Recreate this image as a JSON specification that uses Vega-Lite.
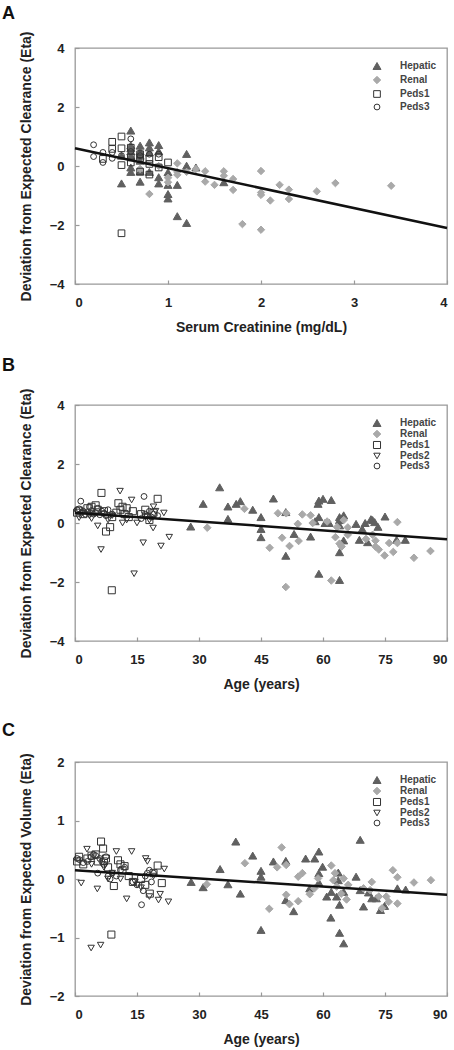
{
  "$schema": "https://vega.github.io/schema/vega-lite/v6.json",
  "padding": {"left": 1, "top": 4, "right": 4, "bottom": 2},
  "background": "white",
  "config": {
    "font": "Liberation Sans",
    "view": {"stroke": "#999999", "strokeWidth": 1.3},
    "axis": {"grid": false, "domain": false, "format": "d", "labelFont": "Liberation Sans", "labelFontWeight": "bold", "labelFontSize": 13, "labelColor": "#222222", "titleFont": "Liberation Sans", "titleFontWeight": "bold", "titleFontSize": 14, "titleColor": "#222222", "tickColor": "#999999", "tickSize": -4, "tickWidth": 1.2},
    "axisX": {"labelPadding": 16, "titlePadding": 11},
    "axisY": {"labelPadding": 15, "titlePadding": 16},
    "legend": {"orient": "none", "legendX": 297, "legendY": 13, "labelFont": "Liberation Sans", "labelFontSize": 10, "labelFontWeight": "bold", "labelColor": "#444444", "labelOffset": 18, "symbolStrokeWidth": 1},
    "title": {"font": "Liberation Sans", "fontSize": 18, "fontWeight": "bold", "color": "#111111", "anchor": "start", "frame": "group", "baseline": "bottom", "dx": -73}
  },
  "datasets": {
    "A": [
      {"g":"Hepatic","x":0.5,"y":-0.59},{"g":"Hepatic","x":0.5,"y":0.35},{"g":"Hepatic","x":0.6,"y":1.2},{"g":"Hepatic","x":0.6,"y":0.7},{"g":"Hepatic","x":0.6,"y":0.6},{"g":"Hepatic","x":0.6,"y":0.5},{"g":"Hepatic","x":0.6,"y":0.35},{"g":"Hepatic","x":0.6,"y":-0.05},{"g":"Hepatic","x":0.6,"y":-0.2},{"g":"Hepatic","x":0.7,"y":0.69},{"g":"Hepatic","x":0.7,"y":0.5},{"g":"Hepatic","x":0.7,"y":0.35},{"g":"Hepatic","x":0.7,"y":0.18},{"g":"Hepatic","x":0.7,"y":-0.19},{"g":"Hepatic","x":0.7,"y":-0.53},{"g":"Hepatic","x":0.8,"y":0.8},{"g":"Hepatic","x":0.8,"y":0.63},{"g":"Hepatic","x":0.8,"y":0.46},{"g":"Hepatic","x":0.8,"y":-0.2},{"g":"Hepatic","x":0.9,"y":0.71},{"g":"Hepatic","x":0.9,"y":0.5},{"g":"Hepatic","x":0.9,"y":-0.38},{"g":"Hepatic","x":0.9,"y":-0.59},{"g":"Hepatic","x":1.0,"y":-0.21},{"g":"Hepatic","x":1.0,"y":-0.64},{"g":"Hepatic","x":1.0,"y":-0.95},{"g":"Hepatic","x":1.0,"y":-1.1},{"g":"Hepatic","x":1.1,"y":-0.64},{"g":"Hepatic","x":1.1,"y":-1.7},{"g":"Hepatic","x":1.2,"y":0.41},{"g":"Hepatic","x":1.2,"y":0.01},{"g":"Hepatic","x":1.2,"y":-1.93},{"g":"Hepatic","x":1.3,"y":-0.05},{"g":"Hepatic","x":1.6,"y":-0.55},
      {"g":"Renal","x":0.7,"y":-0.1},{"g":"Renal","x":0.8,"y":-0.95},{"g":"Renal","x":0.9,"y":0.0},{"g":"Renal","x":1.0,"y":-0.4},{"g":"Renal","x":1.0,"y":-0.55},{"g":"Renal","x":1.1,"y":0.09},{"g":"Renal","x":1.1,"y":-0.2},{"g":"Renal","x":1.1,"y":-0.3},{"g":"Renal","x":1.2,"y":-0.2},{"g":"Renal","x":1.3,"y":-0.1},{"g":"Renal","x":1.4,"y":-0.18},{"g":"Renal","x":1.4,"y":-0.53},{"g":"Renal","x":1.5,"y":-0.64},{"g":"Renal","x":1.6,"y":-0.18},{"g":"Renal","x":1.6,"y":-0.33},{"g":"Renal","x":1.7,"y":-0.44},{"g":"Renal","x":1.7,"y":-0.81},{"g":"Renal","x":1.8,"y":-1.97},{"g":"Renal","x":2.0,"y":-0.17},{"g":"Renal","x":2.0,"y":-0.9},{"g":"Renal","x":2.0,"y":-0.98},{"g":"Renal","x":2.0,"y":-2.16},{"g":"Renal","x":2.1,"y":-1.17},{"g":"Renal","x":2.2,"y":-0.64},{"g":"Renal","x":2.3,"y":-0.8},{"g":"Renal","x":2.3,"y":-1.12},{"g":"Renal","x":2.6,"y":-0.86},{"g":"Renal","x":2.8,"y":-0.58},{"g":"Renal","x":3.4,"y":-0.67},
      {"g":"Peds1","x":0.5,"y":1.0},{"g":"Peds1","x":0.5,"y":-2.28},{"g":"Peds1","x":0.4,"y":0.82},{"g":"Peds1","x":0.4,"y":0.58},{"g":"Peds1","x":0.5,"y":0.6},{"g":"Peds1","x":0.5,"y":0.03},{"g":"Peds1","x":0.3,"y":0.24},{"g":"Peds1","x":0.8,"y":-0.29},{"g":"Peds1","x":0.7,"y":-0.19},{"g":"Peds1","x":1.0,"y":0.12},{"g":"Peds1","x":0.9,"y":-0.05},{"g":"Peds1","x":0.6,"y":0.12},{"g":"Peds1","x":0.6,"y":0.29},{"g":"Peds1","x":0.7,"y":0.4},{"g":"Peds1","x":0.7,"y":0.26},{"g":"Peds1","x":0.8,"y":0.24},{"g":"Peds1","x":0.8,"y":0.07},{"g":"Peds1","x":0.9,"y":0.3},{"g":"Peds1","x":0.6,"y":0.62},
      {"g":"Peds3","x":0.2,"y":0.72},{"g":"Peds3","x":0.2,"y":0.32},{"g":"Peds3","x":0.3,"y":0.46},{"g":"Peds3","x":0.3,"y":0.12},{"g":"Peds3","x":0.4,"y":0.26},{"g":"Peds3","x":0.4,"y":0.46},{"g":"Peds3","x":0.5,"y":0.35},{"g":"Peds3","x":0.6,"y":0.92},{"g":"Peds3","x":0.6,"y":0.49},{"g":"Peds3","x":0.7,"y":0.35},{"g":"Peds3","x":0.8,"y":0.4},{"g":"Peds3","x":0.9,"y":0.4}
    ],
    "B": [
      {"g":"Hepatic","x":28,"y":-0.12},{"g":"Hepatic","x":31,"y":0.65},{"g":"Hepatic","x":35,"y":1.21},{"g":"Hepatic","x":37,"y":0.56},{"g":"Hepatic","x":37,"y":0.14},{"g":"Hepatic","x":39,"y":0.65},{"g":"Hepatic","x":40,"y":0.74},{"g":"Hepatic","x":43,"y":0.45},{"g":"Hepatic","x":45,"y":0.2},{"g":"Hepatic","x":45,"y":-0.2},{"g":"Hepatic","x":45,"y":-0.48},{"g":"Hepatic","x":48,"y":0.83},{"g":"Hepatic","x":51,"y":0.37},{"g":"Hepatic","x":51,"y":-1.11},{"g":"Hepatic","x":53,"y":-0.37},{"g":"Hepatic","x":57,"y":-0.46},{"g":"Hepatic","x":58.1,"y":0.06},{"g":"Hepatic","x":58.8,"y":0.65},{"g":"Hepatic","x":59,"y":0.76},{"g":"Hepatic","x":60,"y":0.82},{"g":"Hepatic","x":62,"y":0.78},{"g":"Hepatic","x":59,"y":0.2},{"g":"Hepatic","x":59,"y":-1.72},{"g":"Hepatic","x":60.5,"y":0.0},{"g":"Hepatic","x":61.5,"y":0.0},{"g":"Hepatic","x":64,"y":0.2},{"g":"Hepatic","x":64,"y":0.1},{"g":"Hepatic","x":64,"y":-0.08},{"g":"Hepatic","x":64,"y":-0.99},{"g":"Hepatic","x":64,"y":-1.93},{"g":"Hepatic","x":65,"y":0.26},{"g":"Hepatic","x":65,"y":-0.59},{"g":"Hepatic","x":68,"y":-0.03},{"g":"Hepatic","x":68.8,"y":-0.57},{"g":"Hepatic","x":69.5,"y":-0.2},{"g":"Hepatic","x":70.2,"y":0.0},{"g":"Hepatic","x":70.8,"y":-0.65},{"g":"Hepatic","x":71.6,"y":0.13},{"g":"Hepatic","x":72,"y":0.1},{"g":"Hepatic","x":72.5,"y":0.03},{"g":"Hepatic","x":73.3,"y":-0.13},{"g":"Hepatic","x":75,"y":0.22},{"g":"Hepatic","x":77.8,"y":-0.57},{"g":"Hepatic","x":79.9,"y":-0.57},
      {"g":"Renal","x":32,"y":-0.16},{"g":"Renal","x":41,"y":0.48},{"g":"Renal","x":47.1,"y":-0.84},{"g":"Renal","x":49.1,"y":0.33},{"g":"Renal","x":51.1,"y":0.33},{"g":"Renal","x":51,"y":-2.17},{"g":"Renal","x":50.1,"y":-0.5},{"g":"Renal","x":51.9,"y":-0.78},{"g":"Renal","x":54.1,"y":-0.61},{"g":"Renal","x":53.9,"y":-0.03},{"g":"Renal","x":55,"y":0.29},{"g":"Renal","x":57,"y":0.26},{"g":"Renal","x":57.5,"y":0.0},{"g":"Renal","x":61,"y":0.05},{"g":"Renal","x":62,"y":-1.95},{"g":"Renal","x":63,"y":-0.48},{"g":"Renal","x":63.4,"y":-0.14},{"g":"Renal","x":64,"y":-0.7},{"g":"Renal","x":64.5,"y":-0.8},{"g":"Renal","x":65,"y":0.1},{"g":"Renal","x":66,"y":-0.15},{"g":"Renal","x":66,"y":-0.4},{"g":"Renal","x":70.4,"y":-0.54},{"g":"Renal","x":72,"y":-0.4},{"g":"Renal","x":72.7,"y":-0.6},{"g":"Renal","x":72.7,"y":-0.8},{"g":"Renal","x":73.5,"y":-0.9},{"g":"Renal","x":74.9,"y":-1.1},{"g":"Renal","x":76,"y":-0.68},{"g":"Renal","x":77,"y":-0.98},{"g":"Renal","x":78,"y":-0.68},{"g":"Renal","x":78,"y":0.03},{"g":"Renal","x":82,"y":-1.18},{"g":"Renal","x":86,"y":-0.95},
      {"g":"Peds1","x":0.5,"y":0.35},{"g":"Peds1","x":1,"y":0.42},{"g":"Peds1","x":2,"y":0.3},{"g":"Peds1","x":3,"y":0.5},{"g":"Peds1","x":4,"y":0.55},{"g":"Peds1","x":5,"y":0.6},{"g":"Peds1","x":5.5,"y":0.45},{"g":"Peds1","x":6.4,"y":1.02},{"g":"Peds1","x":7,"y":0.4},{"g":"Peds1","x":7.5,"y":-0.29},{"g":"Peds1","x":8.5,"y":-0.14},{"g":"Peds1","x":8.9,"y":-2.28},{"g":"Peds1","x":9,"y":0.2},{"g":"Peds1","x":10,"y":0.35},{"g":"Peds1","x":10.5,"y":0.67},{"g":"Peds1","x":11,"y":0.45},{"g":"Peds1","x":11.5,"y":0.55},{"g":"Peds1","x":12,"y":0.3},{"g":"Peds1","x":12.5,"y":0.5},{"g":"Peds1","x":13,"y":0.2},{"g":"Peds1","x":14,"y":0.4},{"g":"Peds1","x":16,"y":0.3},{"g":"Peds1","x":17,"y":0.45},{"g":"Peds1","x":18,"y":0.1},{"g":"Peds1","x":19,"y":0.35},{"g":"Peds1","x":20,"y":0.82},
      {"g":"Peds2","x":1,"y":0.18},{"g":"Peds2","x":2,"y":0.35},{"g":"Peds2","x":3.5,"y":0.25},{"g":"Peds2","x":4,"y":0.15},{"g":"Peds2","x":5.5,"y":-0.1},{"g":"Peds2","x":6.3,"y":-0.9},{"g":"Peds2","x":7,"y":0.3},{"g":"Peds2","x":8,"y":0.1},{"g":"Peds2","x":9,"y":0.25},{"g":"Peds2","x":10.9,"y":1.08},{"g":"Peds2","x":11.5,"y":0.0},{"g":"Peds2","x":12.5,"y":0.1},{"g":"Peds2","x":13.7,"y":0.78},{"g":"Peds2","x":14.3,"y":-1.72},{"g":"Peds2","x":15,"y":0.0},{"g":"Peds2","x":16.5,"y":-0.67},{"g":"Peds2","x":17,"y":0.2},{"g":"Peds2","x":18,"y":0.1},{"g":"Peds2","x":18.9,"y":-0.17},{"g":"Peds2","x":19,"y":0.55},{"g":"Peds2","x":19.5,"y":0.4},{"g":"Peds2","x":20.8,"y":-0.78},{"g":"Peds2","x":21.5,"y":0.34},{"g":"Peds2","x":22.8,"y":-0.48},
      {"g":"Peds3","x":0.5,"y":0.45},{"g":"Peds3","x":1,"y":0.48},{"g":"Peds3","x":1.4,"y":0.74},{"g":"Peds3","x":2,"y":0.4},{"g":"Peds3","x":2.5,"y":0.3},{"g":"Peds3","x":3,"y":0.38},{"g":"Peds3","x":3.5,"y":0.55},{"g":"Peds3","x":4,"y":0.42},{"g":"Peds3","x":4.5,"y":0.3},{"g":"Peds3","x":5,"y":0.35},{"g":"Peds3","x":5.5,"y":0.5},{"g":"Peds3","x":6,"y":0.28},{"g":"Peds3","x":6.5,"y":0.4},{"g":"Peds3","x":7,"y":0.33},{"g":"Peds3","x":7.5,"y":0.25},{"g":"Peds3","x":8,"y":0.45},{"g":"Peds3","x":9,"y":0.3},{"g":"Peds3","x":16,"y":0.15},{"g":"Peds3","x":16.7,"y":0.9},{"g":"Peds3","x":17,"y":0.3},{"g":"Peds3","x":17.5,"y":0.25},{"g":"Peds3","x":18,"y":0.4},{"g":"Peds3","x":18.5,"y":0.2},{"g":"Peds3","x":19,"y":0.3},{"g":"Peds3","x":20,"y":0.25}
    ],
    "C": [
      {"g":"Hepatic","x":28.1,"y":-0.05},{"g":"Hepatic","x":31,"y":-0.14},{"g":"Hepatic","x":35.1,"y":0.17},{"g":"Hepatic","x":37,"y":-0.09},{"g":"Hepatic","x":38.9,"y":0.64},{"g":"Hepatic","x":40,"y":-0.25},{"g":"Hepatic","x":43,"y":0.4},{"g":"Hepatic","x":45,"y":0.14},{"g":"Hepatic","x":45,"y":0.04},{"g":"Hepatic","x":45,"y":-0.87},{"g":"Hepatic","x":48,"y":0.3},{"g":"Hepatic","x":51,"y":0.31},{"g":"Hepatic","x":51,"y":-0.36},{"g":"Hepatic","x":52.9,"y":-0.55},{"g":"Hepatic","x":55.8,"y":0.35},{"g":"Hepatic","x":56.8,"y":-0.16},{"g":"Hepatic","x":58,"y":0.35},{"g":"Hepatic","x":59,"y":0.47},{"g":"Hepatic","x":59,"y":0.1},{"g":"Hepatic","x":59,"y":-0.06},{"g":"Hepatic","x":59.9,"y":0.21},{"g":"Hepatic","x":60.9,"y":-0.3},{"g":"Hepatic","x":61.9,"y":-0.66},{"g":"Hepatic","x":62,"y":-0.22},{"g":"Hepatic","x":63.3,"y":-0.3},{"g":"Hepatic","x":63.7,"y":0.11},{"g":"Hepatic","x":63.7,"y":-0.02},{"g":"Hepatic","x":64,"y":-0.44},{"g":"Hepatic","x":64,"y":-0.92},{"g":"Hepatic","x":65,"y":-1.1},{"g":"Hepatic","x":65,"y":-0.22},{"g":"Hepatic","x":68,"y":0.04},{"g":"Hepatic","x":69,"y":0.67},{"g":"Hepatic","x":69,"y":-0.19},{"g":"Hepatic","x":69.8,"y":-0.47},{"g":"Hepatic","x":71,"y":-0.23},{"g":"Hepatic","x":71.8,"y":-0.33},{"g":"Hepatic","x":72.9,"y":-0.33},{"g":"Hepatic","x":73.9,"y":-0.53},{"g":"Hepatic","x":74.9,"y":-0.46},{"g":"Hepatic","x":78,"y":-0.16},{"g":"Hepatic","x":80,"y":-0.18},
      {"g":"Renal","x":31.9,"y":-0.09},{"g":"Renal","x":41.1,"y":0.27},{"g":"Renal","x":47,"y":-0.51},{"g":"Renal","x":48.9,"y":0.2},{"g":"Renal","x":50,"y":0.54},{"g":"Renal","x":51.1,"y":0.24},{"g":"Renal","x":51.1,"y":-0.27},{"g":"Renal","x":51.9,"y":-0.43},{"g":"Renal","x":54,"y":0.04},{"g":"Renal","x":54,"y":-0.38},{"g":"Renal","x":55,"y":0.1},{"g":"Renal","x":56.8,"y":-0.26},{"g":"Renal","x":57.9,"y":-0.16},{"g":"Renal","x":58.8,"y":0.01},{"g":"Renal","x":62,"y":0.23},{"g":"Renal","x":62.9,"y":0.1},{"g":"Renal","x":62.5,"y":-0.02},{"g":"Renal","x":63.3,"y":-0.13},{"g":"Renal","x":64.4,"y":-0.25},{"g":"Renal","x":65,"y":0.01},{"g":"Renal","x":65.7,"y":-0.35},{"g":"Renal","x":66.1,"y":-0.1},{"g":"Renal","x":69.8,"y":-0.16},{"g":"Renal","x":71.4,"y":-0.19},{"g":"Renal","x":71.8,"y":-0.05},{"g":"Renal","x":73.5,"y":-0.3},{"g":"Renal","x":74.3,"y":-0.5},{"g":"Renal","x":75.3,"y":-0.3},{"g":"Renal","x":75.9,"y":-0.39},{"g":"Renal","x":76.9,"y":0.15},{"g":"Renal","x":78,"y":0.03},{"g":"Renal","x":78,"y":-0.42},{"g":"Renal","x":82,"y":-0.06},{"g":"Renal","x":86.1,"y":-0.02},
      {"g":"Peds1","x":0.5,"y":0.3},{"g":"Peds1","x":1,"y":0.38},{"g":"Peds1","x":2,"y":0.25},{"g":"Peds1","x":3,"y":0.35},{"g":"Peds1","x":4,"y":0.4},{"g":"Peds1","x":5,"y":0.42},{"g":"Peds1","x":5.5,"y":0.3},{"g":"Peds1","x":6.3,"y":0.64},{"g":"Peds1","x":6.8,"y":0.52},{"g":"Peds1","x":7,"y":0.3},{"g":"Peds1","x":7.5,"y":0.35},{"g":"Peds1","x":8,"y":0.2},{"g":"Peds1","x":8.8,"y":-0.95},{"g":"Peds1","x":9.4,"y":-0.12},{"g":"Peds1","x":10.4,"y":0.32},{"g":"Peds1","x":11,"y":0.25},{"g":"Peds1","x":11.5,"y":0.15},{"g":"Peds1","x":12,"y":0.22},{"g":"Peds1","x":13,"y":0.05},{"g":"Peds1","x":14,"y":-0.05},{"g":"Peds1","x":16,"y":0.0},{"g":"Peds1","x":17,"y":-0.1},{"g":"Peds1","x":18.1,"y":-0.25},{"g":"Peds1","x":19,"y":0.1},{"g":"Peds1","x":20,"y":0.23},{"g":"Peds1","x":21,"y":-0.07},
      {"g":"Peds2","x":1.5,"y":-0.07},{"g":"Peds2","x":2.9,"y":0.51},{"g":"Peds2","x":3.9,"y":-1.18},{"g":"Peds2","x":4,"y":0.25},{"g":"Peds2","x":5.4,"y":-0.17},{"g":"Peds2","x":6.2,"y":-1.13},{"g":"Peds2","x":7,"y":0.2},{"g":"Peds2","x":8,"y":0.0},{"g":"Peds2","x":9,"y":0.1},{"g":"Peds2","x":10,"y":0.47},{"g":"Peds2","x":11,"y":0.0},{"g":"Peds2","x":12.5,"y":-0.34},{"g":"Peds2","x":13.7,"y":0.47},{"g":"Peds2","x":14.5,"y":-0.05},{"g":"Peds2","x":15.1,"y":-0.1},{"g":"Peds2","x":16,"y":-0.15},{"g":"Peds2","x":17.1,"y":0.35},{"g":"Peds2","x":17.5,"y":0.3},{"g":"Peds2","x":18,"y":-0.3},{"g":"Peds2","x":19,"y":0.05},{"g":"Peds2","x":20.2,"y":-0.36},{"g":"Peds2","x":20.6,"y":-0.26},{"g":"Peds2","x":21.6,"y":0.17},{"g":"Peds2","x":22.6,"y":-0.39},
      {"g":"Peds3","x":0.5,"y":0.35},{"g":"Peds3","x":1.1,"y":0.33},{"g":"Peds3","x":2,"y":0.28},{"g":"Peds3","x":3,"y":0.3},{"g":"Peds3","x":3.9,"y":0.38},{"g":"Peds3","x":4.5,"y":0.42},{"g":"Peds3","x":5,"y":0.4},{"g":"Peds3","x":5.5,"y":0.1},{"g":"Peds3","x":6,"y":0.35},{"g":"Peds3","x":6.5,"y":0.3},{"g":"Peds3","x":7,"y":0.25},{"g":"Peds3","x":7.5,"y":0.38},{"g":"Peds3","x":8,"y":0.05},{"g":"Peds3","x":8.5,"y":0.0},{"g":"Peds3","x":9,"y":0.1},{"g":"Peds3","x":10,"y":0.05},{"g":"Peds3","x":11,"y":0.15},{"g":"Peds3","x":12,"y":0.2},{"g":"Peds3","x":14,"y":-0.05},{"g":"Peds3","x":15,"y":-0.1},{"g":"Peds3","x":16.1,"y":-0.44},{"g":"Peds3","x":16.5,"y":-0.2},{"g":"Peds3","x":17,"y":0.05},{"g":"Peds3","x":17.5,"y":0.1},{"g":"Peds3","x":18,"y":0.15},{"g":"Peds3","x":18.5,"y":-0.05},{"g":"Peds3","x":19,"y":0.1}
    ],
    "fitA": [{"x":0,"y":0.6},{"x":4,"y":-2.1}],
    "fitB": [{"x":0,"y":0.35},{"x":90,"y":-0.55}],
    "fitC": [{"x":0,"y":0.15},{"x":90,"y":-0.27}]
  },
  "vconcat": [
    {
      "title": {"text": "A", "offset": 8},
      "width": 372, "height": 236,
      "layer": [
        {"mark": {"type": "rule", "color": "#9a9a9a", "strokeWidth": 1.3}, "encoding": {"y": {"datum": 0, "type": "quantitative", "scale": {"domain": [-4, 4], "nice": false}}}},
        {
          "data": {"name": "A"},
          "mark": {"type": "point", "filled": true, "strokeWidth": 1, "opacity": 1},
          "encoding": {
            "x": {"field": "x", "type": "quantitative", "scale": {"domain": [0, 4], "nice": false}, "axis": {"values": [0, 1, 2, 3, 4], "title": "Serum Creatinine (mg/dL)"}},
            "y": {"field": "y", "type": "quantitative", "scale": {"domain": [-4, 4], "nice": false}, "axis": {"values": [-4, -2, 0, 2, 4], "title": "Deviation from Expected Clearance (Eta)"}},
            "shape": {"field": "g", "type": "nominal", "scale": {"domain": ["Hepatic", "Renal", "Peds1", "Peds3"], "range": ["triangle-up", "diamond", "square", "circle"]}, "legend": {"title": null, "rowPadding": 2}},
            "fill": {"field": "g", "type": "nominal", "scale": {"domain": ["Hepatic", "Renal", "Peds1", "Peds3"], "range": ["#606060", "#a9a9a9", "transparent", "transparent"]}, "legend": {"title": null, "rowPadding": 2}},
            "stroke": {"field": "g", "type": "nominal", "scale": {"domain": ["Hepatic", "Renal", "Peds1", "Peds3"], "range": ["#606060", "#a9a9a9", "#333333", "#333333"]}, "legend": {"title": null, "rowPadding": 2}},
            "size": {"field": "g", "type": "nominal", "scale": {"domain": ["Hepatic", "Renal", "Peds1", "Peds3"], "range": [65, 34, 75, 60]}, "legend": {"title": null, "rowPadding": 2}}
          }
        },
        {"data": {"name": "fitA"}, "mark": {"type": "line", "color": "#111111", "strokeWidth": 2.5}, "encoding": {"x": {"field": "x", "type": "quantitative"}, "y": {"field": "y", "type": "quantitative"}}}
      ]
    },
    {
      "title": {"text": "B", "offset": 13},
      "width": 372, "height": 236,
      "layer": [
        {"mark": {"type": "rule", "color": "#9a9a9a", "strokeWidth": 1.3}, "encoding": {"y": {"datum": 0, "type": "quantitative", "scale": {"domain": [-4, 4], "nice": false}}}},
        {
          "data": {"name": "B"},
          "mark": {"type": "point", "filled": true, "strokeWidth": 1, "opacity": 1},
          "encoding": {
            "x": {"field": "x", "type": "quantitative", "scale": {"domain": [0, 90], "nice": false}, "axis": {"values": [0, 15, 30, 45, 60, 75, 90], "title": "Age (years)"}},
            "y": {"field": "y", "type": "quantitative", "scale": {"domain": [-4, 4], "nice": false}, "axis": {"values": [-4, -2, 0, 2, 4], "title": "Deviation from Expected Clearance (Eta)"}},
            "shape": {"field": "g", "type": "nominal", "scale": {"domain": ["Hepatic", "Renal", "Peds1", "Peds2", "Peds3"], "range": ["triangle-up", "diamond", "square", "triangle-down", "circle"]}, "legend": {"title": null, "rowPadding": -1.5}},
            "fill": {"field": "g", "type": "nominal", "scale": {"domain": ["Hepatic", "Renal", "Peds1", "Peds2", "Peds3"], "range": ["#606060", "#a9a9a9", "transparent", "transparent", "transparent"]}, "legend": {"title": null, "rowPadding": -1.5}},
            "stroke": {"field": "g", "type": "nominal", "scale": {"domain": ["Hepatic", "Renal", "Peds1", "Peds2", "Peds3"], "range": ["#606060", "#a9a9a9", "#333333", "#333333", "#333333"]}, "legend": {"title": null, "rowPadding": -1.5}},
            "size": {"field": "g", "type": "nominal", "scale": {"domain": ["Hepatic", "Renal", "Peds1", "Peds2", "Peds3"], "range": [65, 34, 75, 60, 60]}, "legend": {"title": null, "rowPadding": -1.5}}
          }
        },
        {"data": {"name": "fitB"}, "mark": {"type": "line", "color": "#111111", "strokeWidth": 2.5}, "encoding": {"x": {"field": "x", "type": "quantitative"}, "y": {"field": "y", "type": "quantitative"}}}
      ]
    },
    {
      "title": {"text": "C", "offset": 13},
      "width": 372, "height": 234,
      "layer": [
        {"mark": {"type": "rule", "color": "#9a9a9a", "strokeWidth": 1.3}, "encoding": {"y": {"datum": 0, "type": "quantitative", "scale": {"domain": [-2, 2], "nice": false}}}},
        {
          "data": {"name": "C"},
          "mark": {"type": "point", "filled": true, "strokeWidth": 1, "opacity": 1},
          "encoding": {
            "x": {"field": "x", "type": "quantitative", "scale": {"domain": [0, 90], "nice": false}, "axis": {"values": [0, 15, 30, 45, 60, 75, 90], "title": "Age (years)"}},
            "y": {"field": "y", "type": "quantitative", "scale": {"domain": [-2, 2], "nice": false}, "axis": {"values": [-2, -1, 0, 1, 2], "title": "Deviation from Expected Volume (Eta)"}},
            "shape": {"field": "g", "type": "nominal", "scale": {"domain": ["Hepatic", "Renal", "Peds1", "Peds2", "Peds3"], "range": ["triangle-up", "diamond", "square", "triangle-down", "circle"]}, "legend": {"title": null, "rowPadding": -1.5}},
            "fill": {"field": "g", "type": "nominal", "scale": {"domain": ["Hepatic", "Renal", "Peds1", "Peds2", "Peds3"], "range": ["#606060", "#a9a9a9", "transparent", "transparent", "transparent"]}, "legend": {"title": null, "rowPadding": -1.5}},
            "stroke": {"field": "g", "type": "nominal", "scale": {"domain": ["Hepatic", "Renal", "Peds1", "Peds2", "Peds3"], "range": ["#606060", "#a9a9a9", "#333333", "#333333", "#333333"]}, "legend": {"title": null, "rowPadding": -1.5}},
            "size": {"field": "g", "type": "nominal", "scale": {"domain": ["Hepatic", "Renal", "Peds1", "Peds2", "Peds3"], "range": [65, 34, 75, 60, 60]}, "legend": {"title": null, "rowPadding": -1.5}}
          }
        },
        {"data": {"name": "fitC"}, "mark": {"type": "line", "color": "#111111", "strokeWidth": 2.5}, "encoding": {"x": {"field": "x", "type": "quantitative"}, "y": {"field": "y", "type": "quantitative"}}}
      ]
    }
  ],
  "spacing": 121,
  "bounds": "flush",
  "resolve": {"scale": {"x": "independent", "y": "independent", "shape": "independent", "fill": "independent", "stroke": "independent", "size": "independent"}, "legend": {"shape": "independent", "fill": "independent", "stroke": "independent", "size": "independent"}}
}
